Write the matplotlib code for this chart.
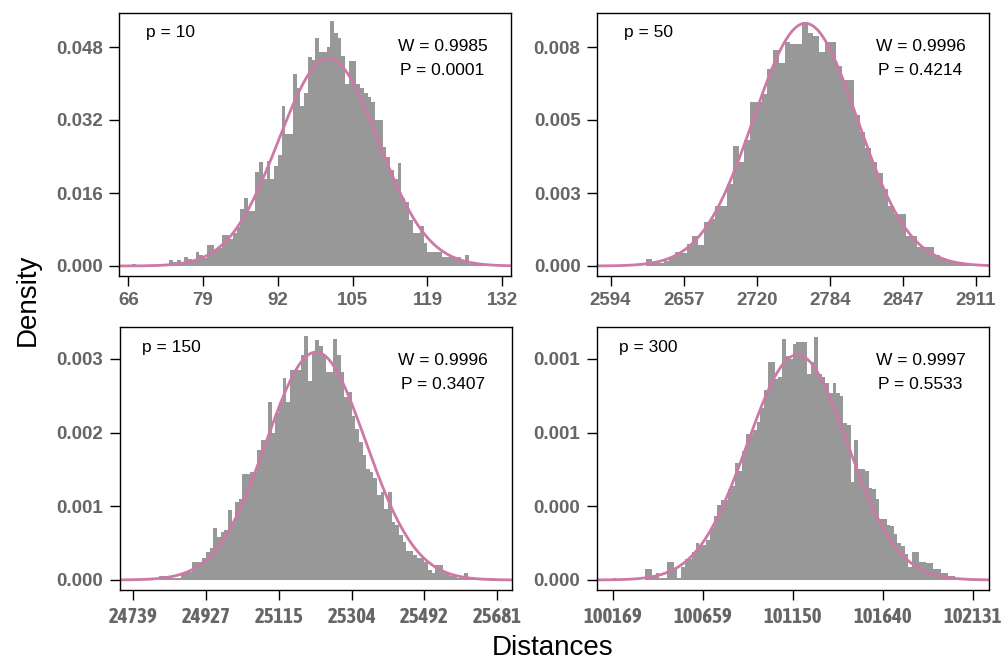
import numpy as np
import matplotlib
matplotlib.use("Agg")
import matplotlib.pyplot as plt
from matplotlib import font_manager

plt.rcParams['font.family'] = ['Liberation Sans', 'DejaVu Sans']

# ---------------- data ----------------
panel_labels = ["p = 10", "p = 50", "p = 150", "p = 300"]
w_stats = ["W = 0.9985", "W = 0.9996", "W = 0.9996", "W = 0.9997"]
p_stats = ["P = 0.0001", "P = 0.4214", "P = 0.3407", "P = 0.5533"]

# histogram bin starts and widths
bin_start = [66.0, 2625.0, 24739.0, 100169.0]
bin_width = [0.66, 5.0, 9.42, 19.62]

dens_p10 = [0, 0.0005, 0, 0, 0, 0, 0, 0, 0.0003, 0.0003,
            0, 0.0014, 0.0008, 0.0014, 0.0006, 0.002, 0.0015, 0.0012, 0.003, 0.0025,
            0.0018, 0.0045, 0.0045, 0.0035, 0.004, 0.0069, 0.0069, 0.006, 0.0072, 0.0085,
            0.0126, 0.015, 0.012, 0.012, 0.0205, 0.0227, 0.019, 0.023, 0.019, 0.022,
            0.0244, 0.035, 0.029, 0.029, 0.042, 0.039, 0.035, 0.038, 0.0457, 0.0452,
            0.050, 0.047, 0.047, 0.048, 0.0536, 0.051, 0.050, 0.046, 0.040, 0.045,
            0.045, 0.040, 0.039, 0.038, 0.037, 0.036, 0.032, 0.032, 0.026, 0.024,
            0.021, 0.019, 0.0226, 0.015, 0.014, 0.010, 0.0073, 0.0073, 0.0087, 0.005,
            0.003, 0.003, 0.003, 0.003, 0.002, 0.002, 0.002, 0.0015, 0.002, 0.001,
            0.0025, 0.0005, 0.0005, 0.0003, 0.0005, 0, 0.0003, 0, 0, 0]

dens_p50 = [0.00024, 0.0001, 0.00012, 0.0002, 0.00032, 0.0005, 0.00048, 0.00079, 0.0011, 0.00076,
            0.0016, 0.0017, 0.0022, 0.0022, 0.003, 0.0044, 0.0038, 0.0046, 0.0060, 0.0060,
            0.0063, 0.0072, 0.0079, 0.0074, 0.0082, 0.0081, 0.0081, 0.0089, 0.0085, 0.0084,
            0.0078, 0.0082, 0.0082, 0.0073, 0.0068, 0.0068, 0.0055, 0.0049, 0.0043, 0.0038,
            0.0034, 0.0028, 0.0022, 0.0019, 0.0019, 0.0011, 0.0011, 0.0007, 0.0007, 0.0007,
            0.0004, 0.0003, 0.0002, 0.00015, 0.0001, 0.0001, 0.00005, 0.00005]

dens_p150 = [0, 0, 0, 0, 0, 0.00002, 0, 0.00006, 0.00006, 0.00003,
             0.00003, 0.00003, 0.00003, 0.0001, 0.00011, 0.00011, 0.00025, 0.00025, 0.00025, 0.0003,
             0.00038, 0.00043, 0.0007, 0.00058, 0.00065, 0.00068, 0.00095, 0.00079, 0.00106, 0.0011,
             0.00144, 0.00144, 0.00146, 0.00146, 0.00176, 0.0019, 0.0019, 0.00242, 0.002, 0.00226,
             0.00242, 0.00274, 0.00242, 0.00285, 0.00285, 0.00285, 0.00305, 0.00331, 0.0027, 0.0031,
             0.00325, 0.00318, 0.00305, 0.00282, 0.00282, 0.00327, 0.00305, 0.00282, 0.00248, 0.00255,
             0.00223, 0.00205, 0.00187, 0.0017, 0.00151, 0.00147, 0.00138, 0.00115, 0.0012, 0.00097,
             0.0012, 0.00079, 0.00075, 0.00061, 0.00052, 0.0004, 0.0004, 0.00034, 0.0003, 0.0003,
             0.00025, 0.00013, 0.0001, 0.0002, 0.0002, 0.0001, 0.0001, 0.00006, 0.00006, 0.00003,
             0.00003, 0.0001, 0.00002, 0.00002, 0, 0, 0.00002, 0, 0.00003, 0]

dens_p300 = [0.000012, 0, 0, 0, 0, 0, 0, 0, 0,
             0.00007, 0.00007, 0.000024, 0.000048, 0.000012, 0.000012, 0.00012, 0.00012, 0.000072, 0.000012,
             0.000084, 0.00014, 0.00014, 0.00018, 0.00024, 0.00023, 0.00023, 0.00026, 0.00034, 0.00042,
             0.00049, 0.00052, 0.00052, 0.00059, 0.00061, 0.00076, 0.00071, 0.00084, 0.00095, 0.00095,
             0.00098, 0.00103, 0.00112, 0.00124, 0.00142, 0.00142, 0.00131, 0.00132, 0.00157, 0.00146,
             0.00144, 0.00154, 0.00155, 0.00155, 0.00155, 0.00134, 0.00142, 0.00158, 0.00134, 0.00132,
             0.00128, 0.00122, 0.00128, 0.00122, 0.0012, 0.00102, 0.00101, 0.00064, 0.00091, 0.00072,
             0.00072, 0.00071, 0.0006, 0.00059, 0.00053, 0.0004, 0.0004, 0.00036, 0.00035, 0.0003,
             0.00024, 0.00022, 0.00017, 0.000084, 0.00018, 0.00018, 0.00012, 0.00012, 0.00011, 0.00011,
             0.000072, 0.000072, 0.000048, 0.000048, 0.000024, 0.000024, 0.000012, 0.000012, 0.000012, 0.000006,
             0.000006, 0.000006]

densities = [dens_p10, dens_p50, dens_p150, dens_p300]

# fitted normal curve parameters (mean, sd)
fit_mean = [101.3, 2763.0, 25212.0, 101175.0]
fit_sd = [8.77, 45.0, 129.0, 272.0]

# axis ticks
xtick_labels = [["66", "79", "92", "105", "119", "132"],
                ["2594", "2657", "2720", "2784", "2847", "2911"],
                ["24739", "24927", "25115", "25304", "25492", "25681"],
                ["100169", "100659", "101150", "101640", "102131"]]
xtick_range = [(66, 132), (2594, 2911), (24739, 25681), (100169, 102131)]
ytick_labels = [["0.000", "0.016", "0.032", "0.048"],
                ["0.000", "0.003", "0.005", "0.008"],
                ["0.000", "0.001", "0.002", "0.003"],
                ["0.000", "0.000", "0.001", "0.001"]]
ytick_top = [0.048, 0.008, 0.003, 0.00144]

# ---------------- layout ----------------
W, H = 1003, 660
fig = plt.figure(figsize=(W / 100, H / 100), dpi=100)

boxes = [(119.3, 12.7, 511.0, 275.7), (597.2, 12.7, 989.2, 275.7),
         (120.1, 327.0, 511.6, 590.0), (597.1, 327.0, 989.0, 590.0)]
xlims = [(64.41, 133.54), (2582.4, 2922.5), (24704.8, 25718.3), (100084.6, 102217.5)]
step_px = [73.0, 73.0, 73.7, 73.7]
zero_px_below_top = [253.3, 253.3, 253.0, 253.0]
box_h = [263.0, 263.0, 263.0, 263.0]

bar_color = '#989898'
curve_color = '#CC79A7'
tick_color = '#666666'


def _w(v):
    if isinstance(v, str):
        return font_manager.weight_dict.get(v, 400)
    return v


# look for a bold condensed sans face for the bottom-row x tick labels
narrow_family = None
for f in font_manager.fontManager.ttflist:
    if ('Narrow' in f.name or 'Condensed' in f.name) and 'Mono' not in f.name \
            and 'Serif' not in f.name and _w(f.weight) >= 600:
        narrow_family = f.name
        break

for i in range(4):
    x0, y0, x1, y1 = boxes[i]
    ax = fig.add_axes([x0 / W, 1 - y1 / H, (x1 - x0) / W, (y1 - y0) / H])
    d = np.array(densities[i])
    lefts = bin_start[i] + bin_width[i] * np.arange(len(d))
    ax.bar(lefts, d, width=bin_width[i], align='edge', color=bar_color,
           linewidth=0, edgecolor='none')
    xs = np.linspace(xlims[i][0], xlims[i][1], 600)
    ys = np.exp(-0.5 * ((xs - fit_mean[i]) / fit_sd[i]) ** 2) / (fit_sd[i] * np.sqrt(2 * np.pi))
    ax.plot(xs, ys, color=curve_color, lw=2)
    ax.set_xlim(*xlims[i])
    unit = ytick_top[i] / 3 / step_px[i]
    ax.set_ylim(-(box_h[i] - zero_px_below_top[i]) * unit, zero_px_below_top[i] * unit)
    n = len(xtick_labels[i])
    ax.set_xticks(np.linspace(xtick_range[i][0], xtick_range[i][1], n))
    ax.set_xticklabels(xtick_labels[i])
    ax.set_yticks(np.linspace(0, ytick_top[i], 4))
    ax.set_yticklabels(ytick_labels[i])
    ax.tick_params(axis='both', direction='out', length=7, width=1, color='black',
                   labelsize=13.5, labelcolor=tick_color, pad=5)
    for lab in ax.get_yticklabels():
        lab.set_fontweight('bold')
    for lab in ax.get_xticklabels():
        lab.set_fontweight('bold')
        if i >= 2:
            if narrow_family is not None:
                lab.set_family([narrow_family, 'Liberation Sans'])
                lab.set_fontsize(15)
            else:
                lab.set_fontsize(12.5)
    for sp in ax.spines.values():
        sp.set_linewidth(1)
        sp.set_color('black')
    ax.text(0.13, 0.923, panel_labels[i], transform=ax.transAxes, ha='center',
            va='center', fontsize=12.5)
    ax.text(0.825, 0.873, w_stats[i], transform=ax.transAxes, ha='center',
            va='center', fontsize=12.5)
    ax.text(0.825, 0.782, p_stats[i], transform=ax.transAxes, ha='center',
            va='center', fontsize=12.5)

fig.text(0.028, 0.545, "Density", rotation=90, ha='center', va='center', fontsize=20)
fig.text(0.551, 0.018, "Distances", ha='center', va='center', fontsize=20)

fig.savefig("out.png", dpi=100)
